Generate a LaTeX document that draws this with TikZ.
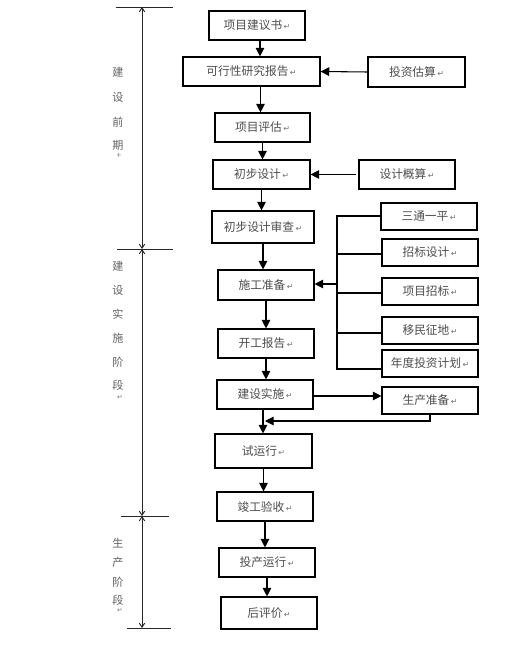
\documentclass[tikz,border=0pt]{standalone}
\usepackage{fontspec}
\newfontfamily\cjk{Noto Sans CJK SC}
\newfontfamily\dvsans{DejaVu Sans}
\usetikzlibrary{arrows.meta}
\newcommand\retmark{{\dvsans\fontsize{6}{6}\selectfont\color{black!55}\,↵}}
\tikzset{
  box/.style={draw=black, line width=0.85pt, rectangle, inner sep=0pt,
    font=\cjk\fontsize{8.8}{10}\selectfont, text=black!70},
  arr/.style={line width=0.8pt, -{Triangle[width=6.5pt,length=6.5pt]}},
  ln/.style={line width=0.8pt},
  tl/.style={line width=0.7pt, draw=black!85},
  tla/.style={tl, {Straight Barb[length=3pt,width=4pt]}-{Straight Barb[length=3pt,width=4pt]}},
  side/.style={font=\cjk\fontsize{8.3}{9}\selectfont, text=black!62, inner sep=0pt},
  mk/.style={font=\dvsans\fontsize{5}{5}\selectfont, text=black!55, inner sep=0pt}
}
\newcommand\bx[6]{\node[box, minimum width=#4*0.75pt, minimum height=#5*0.75pt] (#1) at (#2,#3) {#6\retmark};}
\begin{document}
\begin{tikzpicture}[x=0.75pt,y=-0.75pt]
\useasboundingbox (0,0) rectangle (519,648);
% main chain
\bx{b1}{257}{25.5}{96}{29}{项目建议书}
\bx{b2}{251.5}{71.5}{137}{29}{可行性研究报告}
\bx{b3}{416.5}{72}{97}{30}{投资估算}
\bx{b4}{262.5}{127.5}{95}{29}{项目评估}
\bx{b5}{261.5}{174.5}{97}{29}{初步设计}
\bx{b6}{407}{174.5}{96}{29}{设计概算}
\bx{b7}{263}{227}{102}{32}{初步设计审查}
\bx{b8}{266}{285}{96}{30}{施工准备}
\bx{b9}{266}{343.5}{96}{29}{开工报告}
\bx{b10}{265}{394.5}{96}{29}{建设实施}
\bx{b11}{263.5}{451}{97}{34}{试运行}
\bx{b12}{265}{506.5}{96}{29}{竣工验收}
\bx{b13}{267}{562.5}{96}{29}{投产运行}
\bx{b14}{269}{613}{96}{32}{后评价}
% right boxes
\bx{r1}{429}{216.5}{96}{27}{三通一平}
\bx{r2}{430}{252.5}{96}{27}{招标设计}
\bx{r3}{430}{291.5}{96}{27}{项目招标}
\bx{r4}{430}{330.5}{96}{27}{移民征地}
\bx{r5}{430}{363.5}{96}{27}{年度投资计划}
\bx{r6}{430}{400.5}{96}{27}{生产准备}
% vertical arrows
\draw[arr] ([xshift=3*0.75pt]b1.south) -- ([xshift=3*0.75pt]b1.south |- b2.north);
\draw[arr] ([xshift=9*0.75pt]b2.south) -- ([xshift=9*0.75pt]b2.south |- b4.north);
\draw[arr] (b4.south) -- (b4.south |- b5.north);
\draw[arr] (b5.south) -- (b5.south |- b7.north);
\draw[arr] (b7.south) -- (b7.south |- b8.north);
\draw[arr] (b8.south) -- (b8.south |- b9.north);
\draw[arr] (b9.south) -- (b9.south |- b10.north);
\draw[arr] ([xshift=-2*0.75pt]b10.south) -- ([xshift=-2*0.75pt]b10.south |- b11.north);
\draw[arr] (b11.south) -- (b11.south |- b12.north);
\draw[arr] (b12.south) -- (b12.south |- b13.north);
\draw[arr] (b13.south) -- (b13.south |- b14.north);
% side arrows
\draw[arr] (b3.west) -- (b2.east);
\draw[arr] ([xshift=-2*0.75pt]b6.west) -- (b5.east);
\draw[arr] (b10.east |- 0,396) -- (r6.west |- 0,396);
\coordinate (fb) at (265,421);
\draw[arr] (r6.south) -- (r6.south |- fb) -- (fb);
% bracket
\coordinate (brT) at (337,216);
\coordinate (brB) at (337,369);
\draw[ln] (r1.west |- brT) -- (brT) -- (brB) -- (r5.west |- brB);
\draw[ln] (337,254) -- (r2.west |- 0,254);
\draw[ln] (337,293) -- (r3.west |- 0,293);
\draw[ln] (337,333) -- (r4.west |- 0,333);
\draw[arr] (337,284) -- (b8.east |- 0,284);
% timeline
\coordinate (t0) at (142,7);
\coordinate (t1) at (142,249);
\coordinate (t2) at (142,516);
\coordinate (t3) at (142,628);
\draw[tl] (116,7) -- (173,7);
\draw[tl] (117,249) -- (173,249);
\draw[tl] (121,516) -- (169,516);
\draw[tl] (127,628) -- (171,628);
\draw[tla] (t0) -- (t1);
\draw[tla] (t1) -- (t2);
\draw[tla] (t2) -- (t3);
% side labels
\node[side] (s1) at (118,72) {建};
\node[side] (s2) at (118,97) {设};
\node[side] (s3) at (118,122) {前};
\node[side] (s4) at (118,145) {期};
\node[mk] (s5) at (119,155) {+};
\node[side] (u1) at (118,266) {建};
\node[side] (u2) at (118,290) {设};
\node[side] (u3) at (118,314) {实};
\node[side] (u4) at (118,338) {施};
\node[side] (u5) at (118,362) {阶};
\node[side] (u6) at (118,385) {段};
\node[mk] (u7) at (120,397) {↵};
\node[side] (v1) at (118,543) {生};
\node[side] (v2) at (118,562) {产};
\node[side] (v3) at (118,582) {阶};
\node[side] (v4) at (118,600) {段};
\node[mk] (v5) at (120,610) {↵};
\end{tikzpicture}
\end{document}
